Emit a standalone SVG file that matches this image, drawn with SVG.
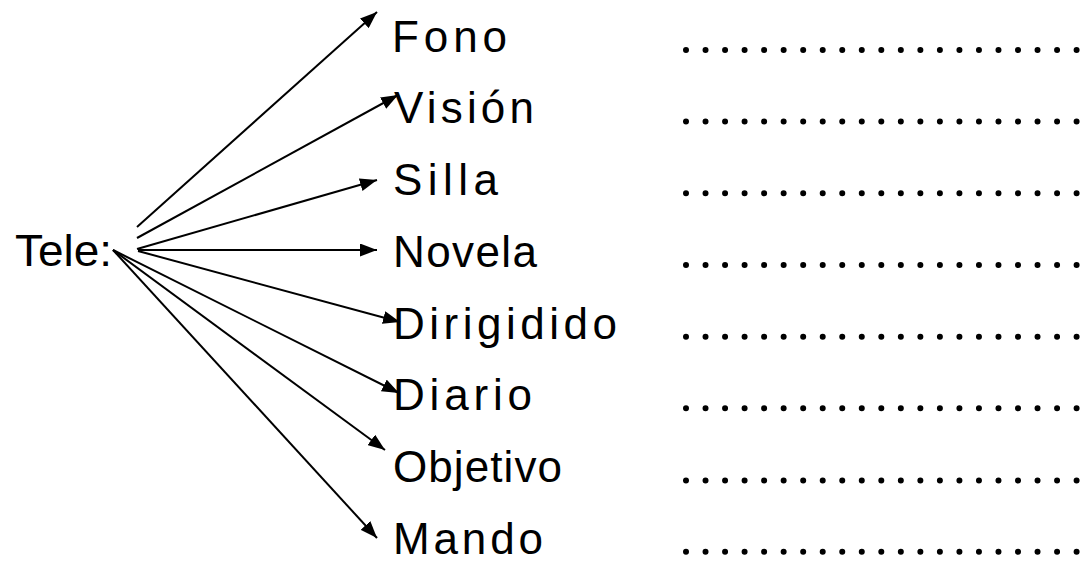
<svg xmlns="http://www.w3.org/2000/svg" width="1080" height="561" viewBox="0 0 1080 561">
<style>
.lbl{font-family:"Liberation Sans","DejaVu Sans",sans-serif;font-size:44px;fill:#000;}
.edge{stroke:#000;stroke-width:2;fill:none;}
.dots{stroke:#000;stroke-width:6;stroke-linecap:round;stroke-dasharray:0 19.53;}
</style>
<defs>
<marker id="ah" viewBox="0 0 17 13" refX="17" refY="6.5" markerWidth="17" markerHeight="13" markerUnits="userSpaceOnUse" orient="auto">
<path d="M0,0 L17,6.5 L0,13 z" fill="#000"/>
</marker>
</defs>
<rect width="1080" height="561" fill="#fff"/>
<g id="connectors">
<line class="edge" x1="137" y1="227" x2="377" y2="12" marker-end="url(#ah)"/>
<line class="edge" x1="137" y1="238" x2="398" y2="95" marker-end="url(#ah)"/>
<line class="edge" x1="137" y1="249" x2="377" y2="180" marker-end="url(#ah)"/>
<line class="edge" x1="138" y1="250" x2="377" y2="250" marker-end="url(#ah)"/>
<line class="edge" x1="138" y1="251" x2="400" y2="322" marker-end="url(#ah)"/>
<line class="edge" x1="113" y1="250" x2="399" y2="393" marker-end="url(#ah)"/>
<line class="edge" x1="113" y1="250" x2="385" y2="450" marker-end="url(#ah)"/>
<line class="edge" x1="113" y1="250" x2="377" y2="538" marker-end="url(#ah)"/>
</g>
<g id="tele"><text class="lbl" x="15" y="266" textLength="97" lengthAdjust="spacingAndGlyphs">Tele:</text></g>
<g id="fono"><text class="lbl" x="392" y="52" textLength="115">Fono</text></g>
<g id="vision"><text class="lbl" x="394" y="123" textLength="140">Visión</text></g>
<g id="silla"><text class="lbl" x="393" y="195" textLength="105">Silla</text></g>
<g id="novela"><text class="lbl" x="393" y="267" textLength="144">Novela</text></g>
<g id="dirigidido"><text class="lbl" x="393" y="339" textLength="224">Dirigidido</text></g>
<g id="diario"><text class="lbl" x="393" y="410" textLength="139">Diario</text></g>
<g id="objetivo"><text class="lbl" x="393" y="482" textLength="169">Objetivo</text></g>
<g id="mando"><text class="lbl" x="393" y="554" textLength="150">Mando</text></g>
<g id="dotlines">
<line class="dots" x1="686" y1="50" x2="1100" y2="50"/>
<line class="dots" x1="686" y1="121.5" x2="1100" y2="121.5"/>
<line class="dots" x1="686" y1="193.3" x2="1100" y2="193.3"/>
<line class="dots" x1="686" y1="265" x2="1100" y2="265"/>
<line class="dots" x1="686" y1="336.7" x2="1100" y2="336.7"/>
<line class="dots" x1="686" y1="408.3" x2="1100" y2="408.3"/>
<line class="dots" x1="686" y1="480.5" x2="1100" y2="480.5"/>
<line class="dots" x1="686" y1="551.7" x2="1100" y2="551.7"/>
</g>
</svg>
